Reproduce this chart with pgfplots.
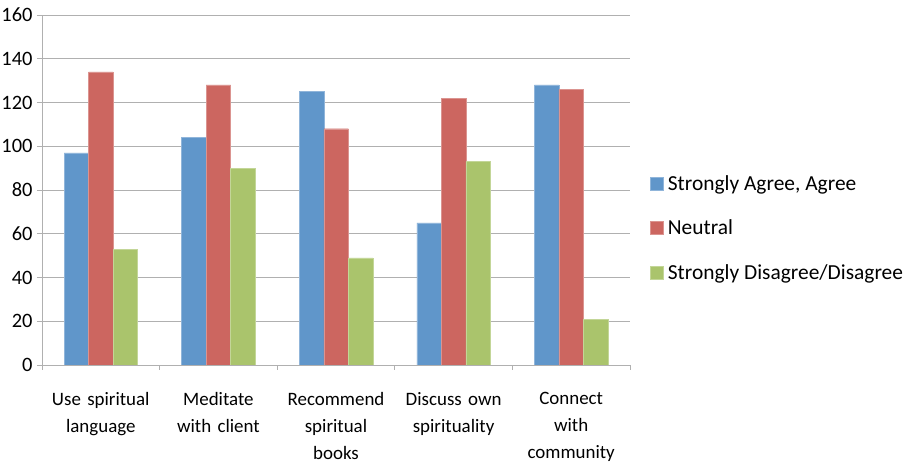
\documentclass[border=0pt]{standalone}
\usepackage{fontspec}
\setmainfont{Carlito}
\usepackage{pgfplots}
\pgfplotsset{compat=1.18}
\definecolor{cblue}{RGB}{96,150,202}
\definecolor{cred}{RGB}{204,102,96}
\definecolor{cgreen}{RGB}{170,196,108}
\definecolor{cgrid}{RGB}{176,176,176}
\begin{document}
\begin{tikzpicture}[x=1bp,y=1bp]
\begin{axis}[
  at={(0,0)}, anchor=south west,
  width=588bp, height=350bp, scale only axis,
  ybar=0pt, bar width=24.5bp,
  xmin=-0.5, xmax=4.5, ymin=0, ymax=160,
  ytick={0,20,...,160},
  xtick={0,1,2,3,4},
  xticklabels={{Use spiritual\\language},{Meditate\\with client},{Recommend\\spiritual\\books},{Discuss own\\spirituality},{Connect\\with\\community}},
  x tick label style={align=center, text width=118bp, font=\fontsize{19}{27}\selectfont, yshift=-19bp},
  y tick label style={font=\fontsize{20.5}{24}\selectfont, xshift=-1bp},
  /pgf/number format/assume math mode=true,
  major x tick style={draw=none},
  minor xtick={-0.5,0.5,...,4.5},
  minor tick length=5bp,
  major tick length=5bp,
  tick align=outside,
  tick style={cgrid, line width=0.8pt},
  axis x line*=bottom, axis y line*=left,
  axis line style={cgrid, line width=0.8pt, -},
  ymajorgrids, grid style={cgrid, line width=0.8pt},
  extra y ticks={160}, extra y tick labels={}, extra y tick style={grid=major},
  legend style={at={(1.0345,0.391)}, anchor=west, draw=none, fill=none,
    font=\fontsize{21.5}{25}\selectfont, row sep=24bp,
    legend cell align=left, inner xsep=0pt,
    nodes={inner xsep=4.5bp}},
  legend image code/.code={\fill[#1] (0bp,-6.5bp) rectangle (12.5bp,6.5bp);},
]
\addplot[fill=cblue, draw=cblue!70!white, line width=0.4pt] coordinates {(0,97) (1,104) (2,125) (3,65) (4,128)};
\addplot[fill=cred, draw=cred!70!white, line width=0.4pt] coordinates {(0,134) (1,128) (2,108) (3,122) (4,126)};
\addplot[fill=cgreen, draw=cgreen!70!white, line width=0.4pt] coordinates {(0,53) (1,90) (2,49) (3,93) (4,21)};
\legend{{Strongly Agree, Agree}, Neutral, Strongly Disagree/Disagree}
\end{axis}
\pgfresetboundingbox
\path (-42,-98) rectangle (867,365);
\end{tikzpicture}
\end{document}
